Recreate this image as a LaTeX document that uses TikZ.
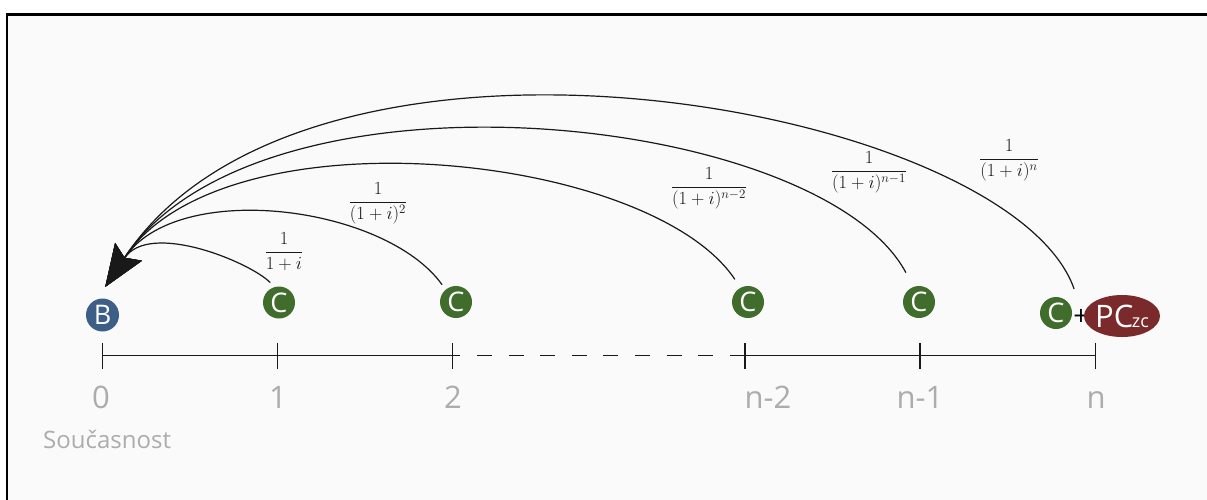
\RequirePackage{fix-cm}
\documentclass[tikz,border=0pt]{standalone}
\usepackage{amsmath}
\usepackage{fontspec}
\newfontfamily\osans{Open Sans}
\usetikzlibrary{arrows.meta,shapes.geometric}
\definecolor{bgc}{RGB}{250,250,250}
\definecolor{bblue}{RGB}{60,94,135}
\definecolor{cgreen}{RGB}{64,108,44}
\definecolor{pcred}{RGB}{122,42,42}
\definecolor{lblgray}{RGB}{172,172,172}
\definecolor{inkc}{RGB}{25,25,25}
\tikzset{
 coin/.style={circle,fill=cgreen,text=white,minimum size=32pt,inner sep=0pt,font=\osans\fontsize{27}{27}\selectfont},
 bnode/.style={coin,fill=bblue,minimum size=33pt},
 axlbl/.style={text=lblgray,font=\osans\fontsize{31}{31}\selectfont,anchor=base,inner sep=0pt},
 fracl/.style={font=\fontsize{18.5}{18.5}\selectfont,inner sep=0pt,text=inkc},
 flow/.style={draw=inkc,line width=1.2pt,-{Stealth[length=42pt,width=32pt,inset=7pt]}},
 axisline/.style={draw=inkc,line width=1.2pt},
}
\begin{document}
\begin{tikzpicture}[x=1pt,y=-1pt]
\useasboundingbox (0,0) rectangle (1207,499);
\clip (0,0) rectangle (1207,499);
\fill[white] (0,0) rectangle (1207,499);
\draw[line width=2.7pt,fill=bgc] (7,14.5) rectangle (1240,530);

% time axis
\coordinate (t0) at (102.5,355.5);
\coordinate (tn) at (1095.7,355.5);
\draw[axisline] (t0) -- (460,355.5);
\draw[axisline,dash pattern=on 15pt off 16.6pt] (477,355.5) -- (714,355.5);
\draw[axisline] (730,355.5) -- (tn);
\foreach \x in {102.5,277.7,452.7,745,920,1095.7} \draw[axisline] (\x,343) -- (\x,369);

% axis labels
\node[axlbl] (l0) at (101,408) {0};
\node[axlbl] (l1) at (278,408) {1};
\node[axlbl] (l2) at (453,408) {2};
\node[axlbl] (l3) at (768,408) {n-2};
\node[axlbl] (l4) at (920,408) {n-1};
\node[axlbl] (l5) at (1096,408) {n};
\node[text=lblgray,font=\osans\fontsize{24}{24}\selectfont,anchor=base west,inner sep=0pt] (now) at (43,448) {Současnost};

% payment nodes
\node[bnode] (B) at (102.5,315) {B};
\node[coin] (c1) at (279,302.5) {C};
\node[coin] (c2) at (456,302) {C};
\node[coin] (c3) at (748,302) {C};
\node[coin] (c4) at (919,302) {C};
\node[coin] (c5) at (1056,313) {C};
\node[font=\osans\fontsize{27}{27}\selectfont,text=black,inner sep=0pt] (plus) at (1081,317) {+};
\node[ellipse,fill=pcred,text=white,minimum width=66pt,minimum height=42pt,inner sep=0pt] (pc) at (1122,316)
  {{\osans\fontsize{31}{31}\selectfont PC}\kern-1.5pt{\osans\fontsize{18}{18}\selectfont zc}};

% discount factors
\node[fracl] (f1) at (284,252) {$\displaystyle\frac{1}{1+i}$};
\node[fracl] (f2) at (378,203) {$\displaystyle\frac{1}{(1+i)^2}$};
\node[fracl] (f3) at (709,188) {$\displaystyle\frac{1}{(1+i)^{n-2}}$};
\node[fracl] (f4) at (869,172) {$\displaystyle\frac{1}{(1+i)^{n-1}}$};
\node[fracl] (f5) at (1009,160) {$\displaystyle\frac{1}{(1+i)^{n}}$};

% discounting arrows
\draw[flow,shorten <=6pt,shorten >=14.8pt] (c1.106) .. controls (250,262) and (149.5,220.7) .. (B.109);
\draw[flow,shorten <=6pt,shorten >=14.8pt] (c2.130) .. controls (385,205) and (177,179) .. (B.109);
\draw[flow,shorten <=10pt,shorten >=14.8pt] (c3.118) .. controls (650,152) and (223.8,108) .. (B.109);
\draw[flow,shorten <=16pt,shorten >=14.8pt] (c4.110) .. controls (820,112) and (259.5,53.7) .. (B.109);
\draw[flow,shorten <=21pt,shorten >=14.8pt] (plus.north) .. controls (1010,105) and (309,-21.5) .. (B.109);
\end{tikzpicture}
\end{document}
